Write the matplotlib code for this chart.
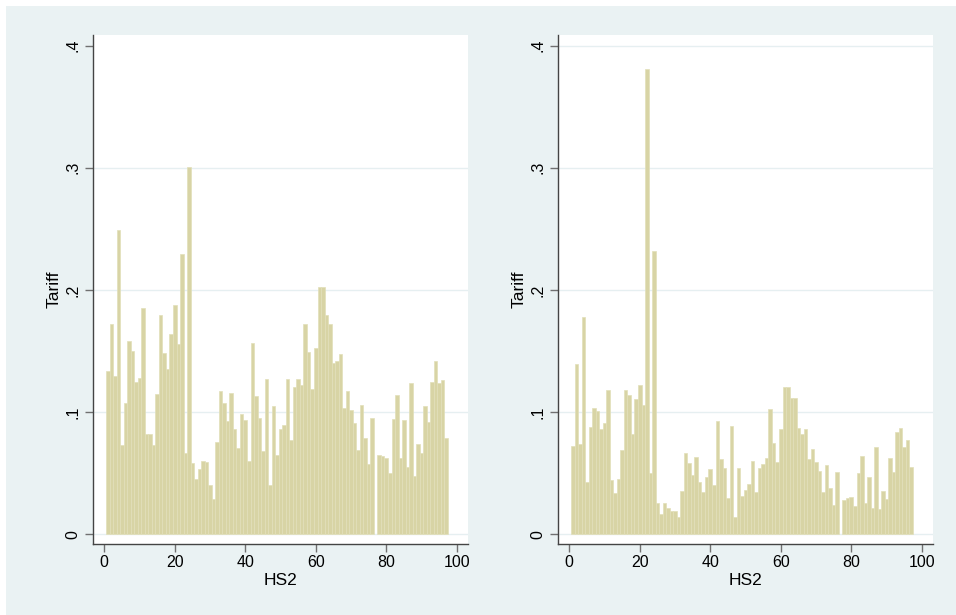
import numpy as np
import matplotlib
matplotlib.use("Agg")
import matplotlib.pyplot as plt
from matplotlib.patches import Rectangle

# HS2 chapters 1..97 (chapter 77 does not exist)
hs2 = [i for i in range(1, 98) if i != 77]

tariff_left = [
    0.1336, 0.1717, 0.1297, 0.2490, 0.0730, 0.1071, 0.1578, 0.1499, 0.1248, 0.1278,
    0.1851, 0.0820, 0.0823, 0.0730, 0.1147, 0.1791, 0.1480, 0.1352, 0.1641, 0.1873,
    0.1554, 0.2296, 0.0662, 0.3010, 0.0580, 0.0454, 0.0534, 0.0599, 0.0591, 0.0405,
    0.0288, 0.0754, 0.1172, 0.1071, 0.0929, 0.1158, 0.0861, 0.0708, 0.0984, 0.0935,
    0.0599, 0.1565, 0.1134, 0.0951, 0.0681, 0.1273, 0.0400, 0.1049, 0.0651, 0.0861,
    0.0894, 0.1273, 0.0768, 0.1205, 0.1267, 0.1221, 0.1717, 0.1491, 0.1188, 0.1524,
    0.2028, 0.2028, 0.1791, 0.1723, 0.1398, 0.1417, 0.1472, 0.1030, 0.1172, 0.1016,
    0.0910, 0.0692, 0.1060, 0.0787, 0.0574, 0.0948,
    0.0651, 0.0640, 0.0624, 0.0504, 0.0943, 0.1139, 0.0624, 0.0935, 0.0550, 0.1235,
    0.0474, 0.0741, 0.0667, 0.1049, 0.0918, 0.1246, 0.1420, 0.1240, 0.1262, 0.0787,
]

tariff_right = [
    0.0722, 0.1393, 0.0738, 0.1775, 0.0424, 0.0880, 0.1033, 0.1011, 0.0864, 0.0913,
    0.1180, 0.0444, 0.0340, 0.0454, 0.0689, 0.1180, 0.1136, 0.0820, 0.1109, 0.1224,
    0.1060, 0.3807, 0.0504, 0.2317, 0.0255, 0.0163, 0.0255, 0.0214, 0.0193, 0.0187,
    0.0138, 0.0356, 0.0667, 0.0585, 0.0482, 0.0632, 0.0430, 0.0345, 0.0471, 0.0536,
    0.0400, 0.0926, 0.0618, 0.0544, 0.0294, 0.0885, 0.0141, 0.0539, 0.0315, 0.0362,
    0.0411, 0.0596, 0.0348, 0.0539, 0.0577, 0.0624, 0.1027, 0.0744, 0.0591, 0.0861,
    0.1202, 0.1202, 0.1112, 0.1115, 0.0872, 0.0820, 0.0858, 0.0615, 0.0695, 0.0588,
    0.0520, 0.0343, 0.0564, 0.0378, 0.0242, 0.0509,
    0.0283, 0.0296, 0.0307, 0.0231, 0.0504, 0.0640, 0.0255, 0.0471, 0.0212, 0.0716,
    0.0206, 0.0351, 0.0291, 0.0621, 0.0506, 0.0839, 0.0869, 0.0716, 0.0771, 0.0553,
]

x_ticks = [0, 20, 40, 60, 80, 100]
y_ticks = [0, 0.1, 0.2, 0.3, 0.4]
y_labels = ["0", ".1", ".2", ".3", ".4"]

plt.rcParams['font.family'] = ['Liberation Sans Narrow', 'Liberation Sans', 'DejaVu Sans']

bg = '#EAF2F3'
bar_col = '#D8D4A5'
edge_col = '#E2DFBA'

fig = plt.figure(figsize=(9.56, 6.15), dpi=100, facecolor='white')
fig.patches.append(Rectangle((6 / 956, 0), 1, 1 - 6 / 615, transform=fig.transFigure,
                             facecolor=bg, edgecolor='none', zorder=-10))

W, H = 956, 615
panels = [(93, tariff_left, [0, 0.1, 0.2, 0.3]), (558, tariff_right, [0, 0.1, 0.2, 0.3, 0.4])]

for left_px, vals, grid_at in panels:
    ax = fig.add_axes([left_px / W, 1 - 544 / H, 375 / W, (544 - 35) / H])
    ax.set_facecolor('white')
    ax.bar(hs2, vals, width=1.0, color=bar_col, edgecolor=edge_col, linewidth=0.5, zorder=2)
    for g in grid_at:
        ax.axhline(g, color='#E6EFF1', linewidth=1.0, zorder=1)
    ax.set_xlim(-3.2, 103.2)
    ax.set_ylim(-0.008, 0.4087)
    ax.set_xticks(x_ticks)
    ax.set_yticks(y_ticks)
    ax.set_yticklabels(y_labels, rotation=90, va='center')
    ax.tick_params(axis='both', direction='out', length=6, width=1.0, color='#707070',
                   labelsize=11.5, labelcolor='black')
    ax.tick_params(axis='x', pad=2)
    ax.tick_params(axis='y', pad=3)
    for s in ['top', 'right']:
        ax.spines[s].set_visible(False)
    for s in ['left', 'bottom']:
        ax.spines[s].set_color('#444444')
        ax.spines[s].set_linewidth(1.0)
    ax.set_xlabel('HS2', fontsize=12.5, labelpad=2)
    ax.set_ylabel('Tariff', fontsize=12.5, labelpad=3)

fig.savefig('out.png', dpi=100, facecolor='white')
